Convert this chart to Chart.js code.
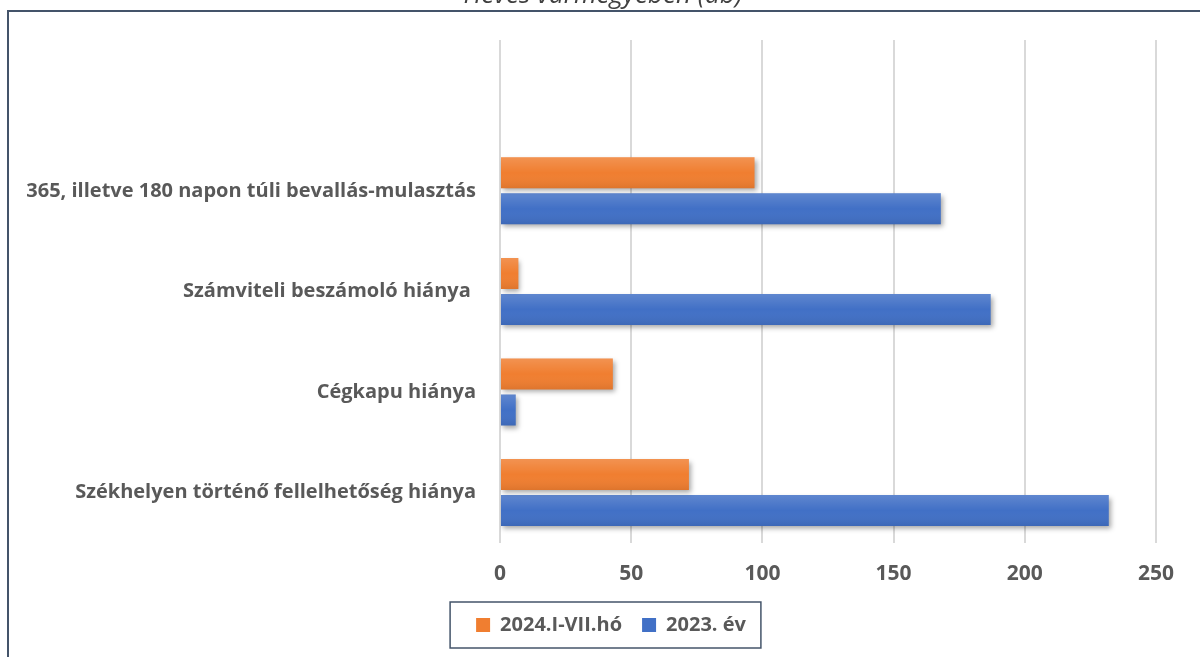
<!DOCTYPE html>
<html>
<head>
<meta charset="utf-8">
<script src="https://cdn.jsdelivr.net/npm/chart.js@4.4.0/dist/chart.umd.min.js"></script>
<style>
html, body { margin: 0; padding: 0; background: #fff; }
</style>
</head>
<body>
<canvas id="myChart" width="1200" height="657"></canvas>
<script>
const titleText = 'Heves vármegyében (db)';
const categories = [
  '',
  '365, illetve 180 napon túli bevallás-mulasztás',
  'Számviteli beszámoló hiánya ',
  'Cégkapu hiánya',
  'Székhelyen történő fellelhetőség hiánya'
];
const seriesNames = ['2024.I-VII.hó', '2023. év'];
const values2024 = [null, 97, 7, 43, 72];
const values2023 = [null, 168, 187, 6, 232];
const xTicks = [0, 50, 100, 150, 200, 250];

const frameColor = '#44546A';
const textColor = '#595959';
const labelFont = 'Open Sans';

// drop shadow under bars + light-to-dark shading on top of them
const barLook = {
  id: 'barLook',
  beforeDatasetsDraw(chart) {
    const ctx = chart.ctx;
    ctx.save();
    ctx.shadowColor = 'rgba(0,0,0,0.35)';
    ctx.shadowBlur = 5;
    ctx.shadowOffsetX = 2;
    ctx.shadowOffsetY = 3;
  },
  afterDatasetsDraw(chart) {
    const ctx = chart.ctx;
    ctx.restore();
    chart.data.datasets.forEach((ds, i) => {
      chart.getDatasetMeta(i).data.forEach(el => {
        const p = el.getProps(['x', 'y', 'base', 'height'], true);
        if (!isFinite(p.x) || p.x === p.base) return;
        const top = p.y - p.height / 2;
        const g = ctx.createLinearGradient(0, top, 0, top + p.height);
        g.addColorStop(0, 'rgba(255,255,255,0.16)');
        g.addColorStop(0.5, 'rgba(255,255,255,0)');
        g.addColorStop(1, 'rgba(0,0,0,0.08)');
        ctx.fillStyle = g;
        ctx.fillRect(Math.min(p.base, p.x), top, Math.abs(p.x - p.base), p.height);
      });
    });
  }
};

// legend sits a bit right of the canvas centre in the original
const legendShift = {
  id: 'legendShift',
  afterLayout(chart) {
    const l = chart.legend;
    const dx = 33;
    l.left += dx;
    l.right += dx;
    l.legendHitBoxes.forEach(b => { b.left += dx; });
  }
};

// chart frame, cut-off title and the box round the legend
const decor = {
  id: 'decor',
  afterDraw(chart) {
    const ctx = chart.ctx;
    ctx.save();
    ctx.strokeStyle = frameColor;
    ctx.lineWidth = 2;
    ctx.beginPath();
    ctx.moveTo(8, chart.height);
    ctx.lineTo(8, 11);
    ctx.lineTo(chart.width, 11);
    ctx.stroke();

    ctx.fillStyle = '#404040';
    ctx.font = 'italic 26px "' + labelFont + '"';
    ctx.textAlign = 'center';
    ctx.textBaseline = 'alphabetic';
    ctx.fillText(titleText, chart.width / 2 + 3, 3);

    const boxes = chart.legend.legendHitBoxes;
    if (boxes.length) {
      const left = Math.min(...boxes.map(b => b.left)) - 26;
      const right = Math.max(...boxes.map(b => b.left + b.width)) + 15;
      const cy = boxes[0].top + boxes[0].height / 2;
      ctx.lineWidth = 1.5;
      ctx.strokeRect(left, cy - 23, right - left, 46);
    }
    ctx.restore();
  }
};

new Chart(document.getElementById('myChart').getContext('2d'), {
  type: 'bar',
  data: {
    labels: categories,
    datasets: [
      {
        label: seriesNames[0],
        data: values2024,
        backgroundColor: '#F07E30',
        borderWidth: 0,
        categoryPercentage: 0.716,
        barPercentage: 0.861
      },
      {
        label: seriesNames[1],
        data: values2023,
        backgroundColor: '#4170C6',
        borderWidth: 0,
        categoryPercentage: 0.716,
        barPercentage: 0.861
      }
    ]
  },
  options: {
    indexAxis: 'y',
    responsive: false,
    animation: false,
    devicePixelRatio: 1,
    layout: { padding: { top: 40, left: 0, right: 44, bottom: 12 } },
    scales: {
      x: {
        min: 0,
        max: 250,
        afterBuildTicks: axis => { axis.ticks = xTicks.map(v => ({ value: v })); },
        grid: { color: '#D9D9D9', lineWidth: 2, drawTicks: false },
        border: { display: false },
        ticks: { padding: 19, color: textColor, font: { family: labelFont, size: 21, weight: 'bold' } },
        afterFit: scale => { scale.height -= 11; }
      },
      y: {
        grid: { display: false, drawTicks: false },
        border: { display: false },
        ticks: { padding: 24, color: textColor, font: { family: labelFont, size: 20, weight: 'bold' } },
        afterFit: scale => { scale.width = 500; }
      }
    },
    plugins: {
      title: { display: false },
      tooltip: { enabled: false },
      legend: {
        position: 'bottom',
        labels: {
          boxWidth: 14,
          boxHeight: 14,
          padding: 20,
          color: textColor,
          font: { family: labelFont, size: 20, weight: 'bold' }
        }
      }
    }
  },
  plugins: [barLook, legendShift, decor]
});
</script>
</body>
</html>
